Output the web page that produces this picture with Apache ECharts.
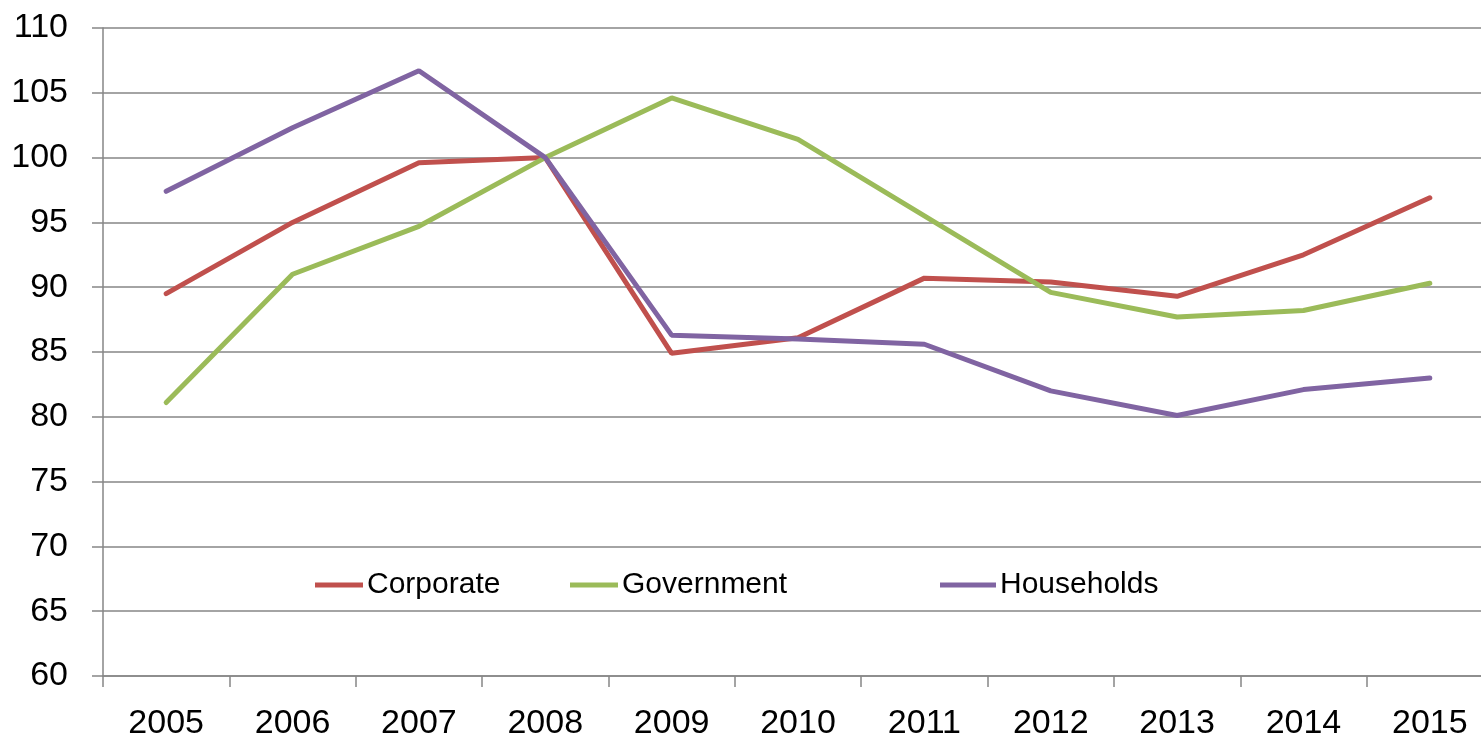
<!DOCTYPE html>
<html>
<head>
<meta charset="utf-8">
<script src="https://cdn.jsdelivr.net/npm/echarts@6/dist/echarts.min.js"></script>
<style>
  html, body { margin: 0; padding: 0; background: #fff; }
  #chart { width: 1481px; height: 739px; }
</style>
</head>
<body>
<div id="chart"></div>
<script>
// data (2008 = 100)
const years = ["2005", "2006", "2007", "2008", "2009", "2010", "2011", "2012", "2013", "2014", "2015"];
const corporate = [89.5, 95.0, 99.6, 100, 84.9, 86.1, 90.7, 90.4, 89.3, 92.5, 96.9];
const government = [81.1, 91.0, 94.7, 100, 104.6, 101.4, 95.5, 89.6, 87.7, 88.2, 90.3];
const households = [97.4, 102.3, 106.7, 100, 86.3, 86.0, 85.6, 82.0, 80.1, 82.1, 83.0];

const font = '"Liberation Sans", Arial, sans-serif';
const axisGray = "#868686";

const chart = echarts.init(document.getElementById("chart"));

const makeSeries = (name, data, color) => ({
  name,
  type: "line",
  data,
  symbol: "none",
  lineStyle: { width: 5, color, cap: "round" },
  itemStyle: { color },
});

// one legend per item so the uneven spacing of the original can be kept
const makeLegend = (name, left, itemWidth) => ({
  data: [name],
  left,
  top: 570,
  padding: 0,
  icon: "rect",
  itemWidth,
  itemHeight: 5,
  textStyle: {
    fontFamily: font,
    fontSize: 30,
    color: "#000",
    padding: [0, 0, 0, -1],
  },
});

chart.setOption({
  animation: false,
  backgroundColor: "#fff",
  grid: {
    left: 103,
    top: 28,
    right: -12,
    bottom: 63,
    outerBoundsMode: "none",
    containLabel: false,
  },
  legend: [
    makeLegend("Corporate", 315, 48),
    makeLegend("Government", 570, 48),
    makeLegend("Households", 940, 56),
  ],
  xAxis: {
    type: "category",
    data: years,
    boundaryGap: true,
    axisLine: { lineStyle: { color: axisGray, width: 1.5 } },
    axisTick: { show: true, length: 11, interval: 0, lineStyle: { color: axisGray, width: 1.5 } },
    axisLabel: {
      margin: 31,
      fontFamily: font,
      fontSize: 34,
      color: "#000",
    },
    splitLine: { show: false },
  },
  yAxis: {
    type: "value",
    min: 60,
    max: 110,
    interval: 5,
    axisLine: { show: true, lineStyle: { color: axisGray, width: 1.5 } },
    axisTick: { show: true, length: 11, lineStyle: { color: axisGray, width: 1.5 } },
    axisLabel: {
      margin: 35,
      fontFamily: font,
      fontSize: 34,
      color: "#000",
    },
    splitLine: { show: true, lineStyle: { color: axisGray, width: 1.5 } },
  },
  series: [
    makeSeries("Corporate", corporate, "#C0504D"),
    makeSeries("Government", government, "#9BBB59"),
    makeSeries("Households", households, "#8064A2"),
  ],
});
</script>
</body>
</html>
